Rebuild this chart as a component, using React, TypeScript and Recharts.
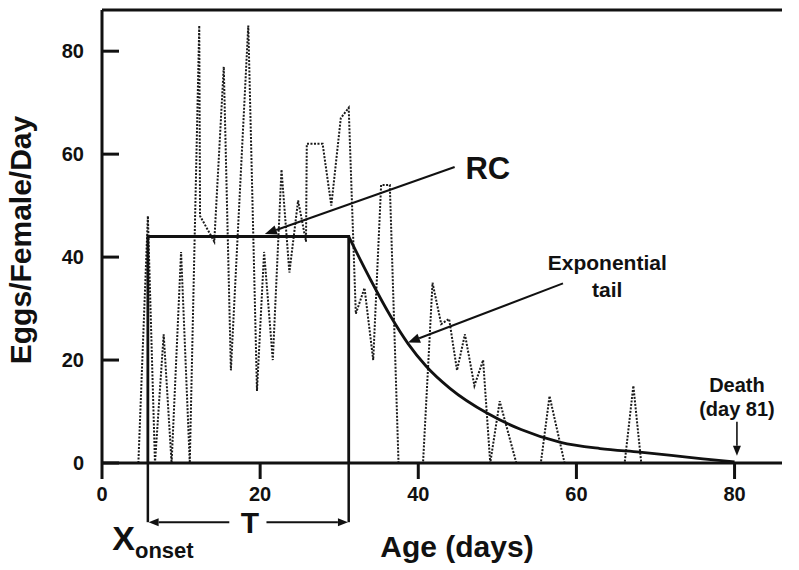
import React from "react";
import {
  LineChart,
  Line,
  XAxis,
  YAxis,
  ReferenceLine,
  ReferenceDot,
  Label,
} from "recharts";

// daily egg counts (dotted trace)
const eggDays = [
  4.6, 5.8, 6.7, 7.8, 8.8, 10.0, 11.1, 12.3, 12.4, 14.2,
  15.4, 16.3, 18.5, 19.6, 20.5, 21.6, 22.7, 23.7, 24.8, 25.8,
  25.9, 27.9, 29.0, 30.2, 31.2, 32.1, 33.2, 34.3, 35.3, 36.4,
  37.5, 40.6, 41.8, 42.9, 43.9, 44.9, 45.9, 47.1, 48.2, 49.1,
  50.3, 52.4, 55.5, 56.6, 58.5, 66.1, 67.2, 68.2,
];
const eggValues = [
  0, 48, 0, 25, 0, 41, 0, 85, 48, 43,
  77, 18, 85, 14, 41, 20, 57, 37, 51, 43,
  62, 62, 50, 67, 69, 29, 34, 20, 54, 54,
  0, 0, 35, 27, 28, 18, 25, 15, 20, 0,
  12, 0, 0, 13, 0, 0, 15, 0,
];

// rectangle (RC) part of the model
const rcDays = [5.8, 5.8, 31.2, 31.2];
const rcValues = [0, 44, 44, 0];

// exponential tail
const tailDays = [31.2, 34, 36.5, 38.7, 41, 44, 48.8, 53, 58, 63, 68, 72, 76, 80];
const tailValues = [44, 35.5, 28.5, 23.2, 18.8, 14.5, 9.6, 6.5, 4, 2.8, 2.1, 1.5, 0.8, 0.2];

const xTicks = [0, 20, 40, 60, 80];
const yTicks = [0, 20, 40, 60, 80];

const eggs = eggDays.map((day, i) => ({ day, value: eggValues[i] }));
const rc = rcDays.map((day, i) => ({ day, value: rcValues[i] }));
const tail = tailDays.map((day, i) => ({ day, value: tailValues[i] }));

const FONT = "'Liberation Sans', Arial, Helvetica, sans-serif";
const INK = "#111";

const Arrow = (props: any) => {
  const { x1, y1, x2, y2, head = 12, width = 2 } = props;
  const ang = Math.atan2(y2 - y1, x2 - x1);
  const hw = head * 0.4;
  const bx = x2 - head * Math.cos(ang);
  const by = y2 - head * Math.sin(ang);
  const p1 = `${bx + hw * Math.sin(ang)},${by - hw * Math.cos(ang)}`;
  const p2 = `${bx - hw * Math.sin(ang)},${by + hw * Math.cos(ang)}`;
  return (
    <g>
      <line x1={x1} y1={y1} x2={bx} y2={by} stroke={INK} strokeWidth={width} />
      <polygon points={`${x2},${y2} ${p1} ${p2}`} fill={INK} />
    </g>
  );
};

const YTick = ({ x, y, payload }: any) => (
  <g>
    <line x1={x} y1={y} x2={x + 17} y2={y} stroke={INK} strokeWidth={3} />
    <text
      x={x - 18}
      y={y + 7}
      textAnchor="end"
      fontSize={20}
      fontWeight="bold"
      fontFamily={FONT}
      fill={INK}
    >
      {payload.value}
    </text>
  </g>
);

const XTick = ({ x, y, payload }: any) => (
  <g>
    <line x1={x} y1={y} x2={x} y2={y + 16} stroke={INK} strokeWidth={3} />
    <text
      x={x}
      y={y + 38}
      textAnchor="middle"
      fontSize={20}
      fontWeight="bold"
      fontFamily={FONT}
      fill={INK}
    >
      {payload.value}
    </text>
  </g>
);

const txt = { fontWeight: "bold", fontFamily: FONT, fill: INK } as const;

export default function App() {
  return (
    <div style={{ position: "absolute", left: 0, top: 0, background: "#fff" }}>
      <LineChart
        width={799}
        height={570}
        margin={{ top: 10, right: 17, bottom: 67, left: 0 }}
      >
        <XAxis
          type="number"
          dataKey="day"
          domain={[0, 86]}
          ticks={xTicks}
          axisLine={{ stroke: INK, strokeWidth: 3 }}
          tickLine={false}
          tickSize={0}
          tickMargin={0}
          tick={<XTick />}
          height={40}
        >
          <Label
            content={({ viewBox }: any) => (
              <text
                x={viewBox.x + viewBox.width * 0.522}
                y={viewBox.y + 94}
                textAnchor="middle"
                fontSize={30}
                {...txt}
              >
                Age (days)
              </text>
            )}
          />
        </XAxis>
        <YAxis
          type="number"
          domain={[0, 88]}
          ticks={yTicks}
          axisLine={{ stroke: INK, strokeWidth: 3 }}
          tickLine={false}
          tickSize={0}
          tickMargin={0}
          tick={<YTick />}
          width={102}
        >
          <Label
            content={({ viewBox }: any) => {
              const cx = viewBox.x + 31;
              const cy = viewBox.y + 230;
              return (
                <text
                  x={cx}
                  y={cy}
                  transform={`rotate(-90 ${cx} ${cy})`}
                  textAnchor="middle"
                  fontSize={30}
                  {...txt}
                >
                  Eggs/Female/Day
                </text>
              );
            }}
          />
        </YAxis>

        <ReferenceLine y={88} stroke={INK} strokeWidth={3} ifOverflow="visible" />

        <Line
          data={eggs}
          dataKey="value"
          type="linear"
          stroke="#1a1a1a"
          strokeWidth={2}
          strokeDasharray="2 1.5"
          dot={false}
          isAnimationActive={false}
        />
        <Line
          data={rc}
          dataKey="value"
          type="linear"
          stroke={INK}
          strokeWidth={2.8}
          dot={false}
          isAnimationActive={false}
        />
        <Line
          data={tail}
          dataKey="value"
          type="monotone"
          stroke={INK}
          strokeWidth={2.8}
          dot={false}
          isAnimationActive={false}
        />

        {/* T bracket below the axis */}
        <ReferenceLine
          segment={[{ x: 5.8, y: 0 }, { x: 5.8, y: -11.5 }]}
          stroke={INK}
          strokeWidth={2.5}
          ifOverflow="visible"
        />
        <ReferenceLine
          segment={[{ x: 31.2, y: 0 }, { x: 31.2, y: -11.5 }]}
          stroke={INK}
          strokeWidth={2.5}
          ifOverflow="visible"
        />
        <ReferenceLine
          segment={[{ x: 16.1, y: -11.5 }, { x: 5.9, y: -11.5 }]}
          ifOverflow="visible"
          shape={(p: any) => <Arrow {...p} head={10} width={2} />}
        />
        <ReferenceLine
          segment={[{ x: 20.8, y: -11.5 }, { x: 31.1, y: -11.5 }]}
          ifOverflow="visible"
          shape={(p: any) => <Arrow {...p} head={10} width={2} />}
        />
        <ReferenceDot
          x={18.7}
          y={-11.5}
          ifOverflow="visible"
          shape={(p: any) => (
            <text x={p.cx} y={p.cy + 11} textAnchor="middle" fontSize={30} {...txt}>
              T
            </text>
          )}
        />
        <ReferenceDot
          x={1.3}
          y={-16.9}
          ifOverflow="visible"
          shape={(p: any) => (
            <text x={p.cx} y={p.cy} {...txt}>
              <tspan fontSize={34}>X</tspan>
              <tspan fontSize={22} dy={8}>
                onset
              </tspan>
            </text>
          )}
        />

        {/* RC annotation */}
        <ReferenceLine
          segment={[{ x: 44.6, y: 57.5 }, { x: 20.6, y: 44.5 }]}
          ifOverflow="visible"
          shape={(p: any) => <Arrow {...p} head={12} width={2} />}
        />
        <ReferenceDot
          x={48.8}
          y={57.3}
          ifOverflow="visible"
          shape={(p: any) => (
            <text x={p.cx} y={p.cy + 11} textAnchor="middle" fontSize={31} {...txt}>
              RC
            </text>
          )}
        />

        {/* Exponential tail annotation */}
        <ReferenceLine
          segment={[{ x: 58.3, y: 34.9 }, { x: 38.7, y: 23.4 }]}
          ifOverflow="visible"
          shape={(p: any) => <Arrow {...p} head={12} width={2} />}
        />
        <ReferenceDot
          x={63.9}
          y={38.9}
          ifOverflow="visible"
          shape={(p: any) => (
            <g>
              <text x={p.cx} y={p.cy + 7} textAnchor="middle" fontSize={21} {...txt}>
                Exponential
              </text>
              <text x={p.cx} y={p.cy + 34} textAnchor="middle" fontSize={21} {...txt}>
                tail
              </text>
            </g>
          )}
        />

        {/* Death annotation */}
        <ReferenceLine
          segment={[{ x: 80.3, y: 8 }, { x: 80.3, y: 1.4 }]}
          ifOverflow="visible"
          shape={(p: any) => <Arrow {...p} head={10} width={1.6} />}
        />
        <ReferenceDot
          x={80.3}
          y={13.8}
          ifOverflow="visible"
          shape={(p: any) => (
            <g>
              <text x={p.cx} y={p.cy} textAnchor="middle" fontSize={20} {...txt}>
                Death
              </text>
              <text x={p.cx} y={p.cy + 24} textAnchor="middle" fontSize={20} {...txt}>
                (day 81)
              </text>
            </g>
          )}
        />
      </LineChart>
    </div>
  );
}
